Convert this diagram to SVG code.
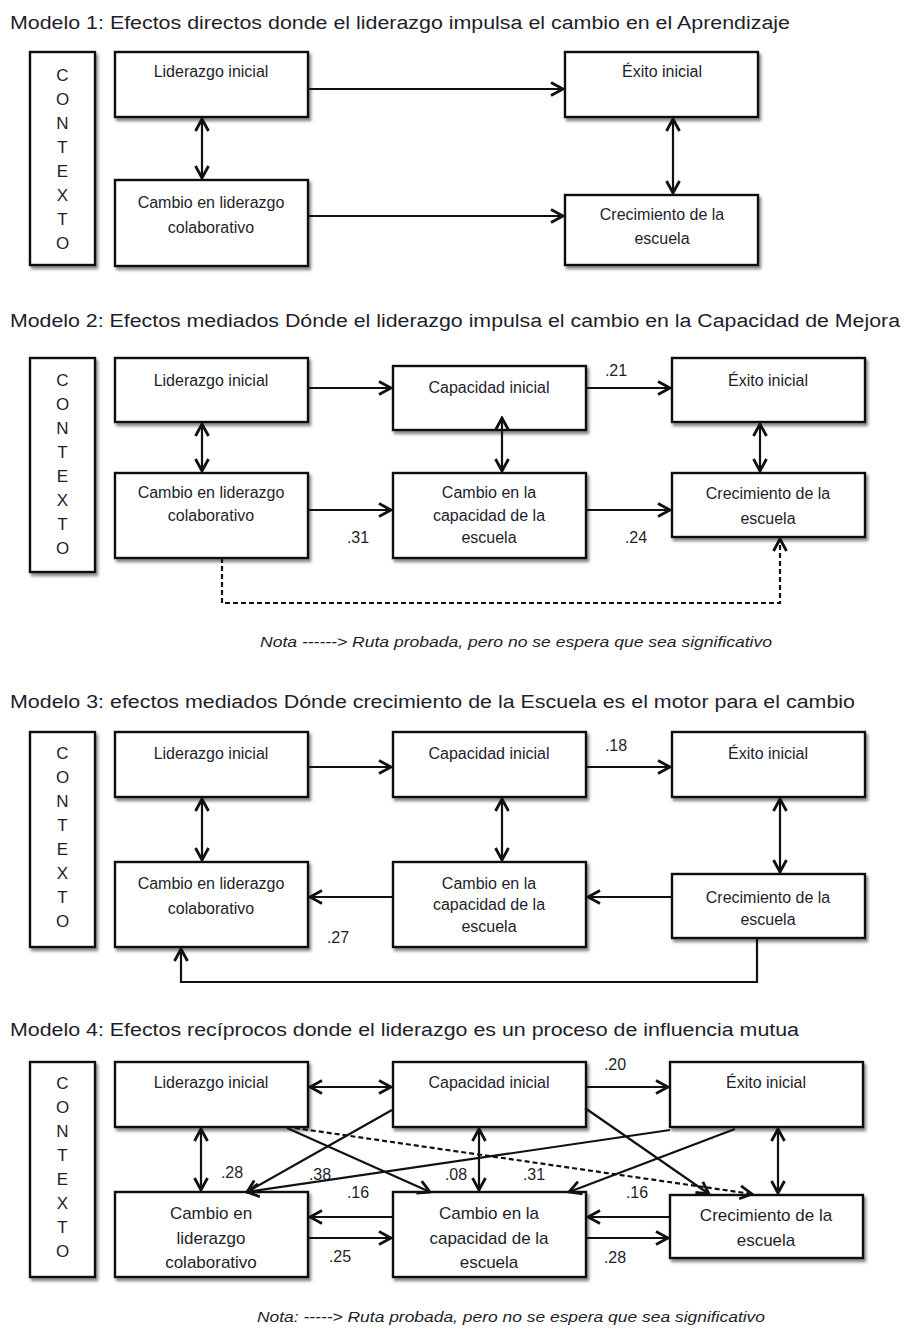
<svg xmlns="http://www.w3.org/2000/svg" width="904" height="1336" viewBox="0 0 904 1336">
<defs>
<filter id="sh" x="-10%" y="-10%" width="130%" height="140%">
<feDropShadow dx="2" dy="3" stdDeviation="1.5" flood-color="#555" flood-opacity="0.7"/>
</filter>
<marker id="ah" viewBox="0 0 16 16" markerWidth="16" markerHeight="16" refX="14" refY="8" orient="auto-start-reverse" markerUnits="userSpaceOnUse">
<path d="M2,1.5 L14,8 L2,14.5" fill="none" stroke="#111" stroke-width="2.8"/>
</marker>
</defs>
<style>
text{font-family:"Liberation Sans",Arial,sans-serif;fill:#1e1e2a}
.title{font-size:18px}
.t{font-size:16px;text-anchor:middle}
.t4{font-size:17px;text-anchor:middle}
.ctx{font-size:17px;text-anchor:middle}
.lbl{font-size:16px;text-anchor:middle}
.note{font-size:14px;font-style:italic;text-anchor:middle}
.box{fill:#fff;stroke:#111;stroke-width:2.4;filter:url(#sh)}
.c{fill:none;stroke:#111;stroke-width:2.2}
.e{marker-end:url(#ah)}
.d{marker-start:url(#ah);marker-end:url(#ah)}
.dash{stroke-dasharray:5 3}
</style>
<rect width="904" height="1336" fill="#fff"/>

<!-- Model 1 -->
<text class="title" x="10" y="29" textLength="780" lengthAdjust="spacingAndGlyphs">Modelo 1: Efectos directos donde el liderazgo impulsa el cambio en el Aprendizaje</text>
<g id="m1-contexto"><rect class="box" x="30" y="52" width="65" height="213"/>
<text class="ctx" x="62.5" y="81">C</text><text class="ctx" x="62.5" y="105">O</text><text class="ctx" x="62.5" y="129">N</text><text class="ctx" x="62.5" y="153">T</text><text class="ctx" x="62.5" y="177">E</text><text class="ctx" x="62.5" y="201">X</text><text class="ctx" x="62.5" y="225">T</text><text class="ctx" x="62.5" y="249">O</text></g>
<g id="m1-lid"><rect class="box" x="115" y="52" width="193" height="65"/><text class="t" x="211" y="77">Liderazgo inicial</text></g>
<g id="m1-exito"><rect class="box" x="565" y="52" width="193" height="65"/><text class="t" x="662" y="77">Éxito inicial</text></g>
<g id="m1-cambio"><rect class="box" x="115" y="180" width="193" height="86"/><text class="t" x="211" y="208">Cambio en liderazgo</text><text class="t" x="211" y="233">colaborativo</text></g>
<g id="m1-crec"><rect class="box" x="565" y="195" width="193" height="70"/><text class="t" x="662" y="220">Crecimiento de la</text><text class="t" x="662" y="244">escuela</text></g>
<g id="m1-connectors">
<line class="c e" x1="308" y1="89" x2="563" y2="89"/>
<line class="c e" x1="308" y1="216" x2="563" y2="216"/>
<line class="c d" x1="202" y1="119" x2="202" y2="178"/>
<line class="c d" x1="673" y1="119" x2="673" y2="193"/>
</g>

<!-- Model 2 -->
<text class="title" x="10" y="327" textLength="890" lengthAdjust="spacingAndGlyphs">Modelo 2: Efectos mediados Dónde el liderazgo impulsa el cambio en la Capacidad de Mejora</text>
<g id="m2-contexto"><rect class="box" x="30" y="358" width="65" height="214"/>
<text class="ctx" x="62.5" y="386">C</text><text class="ctx" x="62.5" y="410">O</text><text class="ctx" x="62.5" y="434">N</text><text class="ctx" x="62.5" y="458">T</text><text class="ctx" x="62.5" y="482">E</text><text class="ctx" x="62.5" y="506">X</text><text class="ctx" x="62.5" y="530">T</text><text class="ctx" x="62.5" y="554">O</text></g>
<g id="m2-lid"><rect class="box" x="115" y="358" width="193" height="64"/><text class="t" x="211" y="386">Liderazgo inicial</text></g>
<g id="m2-cap"><rect class="box" x="393" y="366" width="193" height="64"/><text class="t" x="489" y="393">Capacidad inicial</text></g>
<g id="m2-exito"><rect class="box" x="672" y="358" width="193" height="64"/><text class="t" x="768" y="386">Éxito inicial</text></g>
<g id="m2-cambio"><rect class="box" x="115" y="473" width="193" height="85"/><text class="t" x="211" y="498">Cambio en liderazgo</text><text class="t" x="211" y="521">colaborativo</text></g>
<g id="m2-cambiocap"><rect class="box" x="393" y="473" width="193" height="85"/><text class="t" x="489" y="498">Cambio en la</text><text class="t" x="489" y="521">capacidad de la</text><text class="t" x="489" y="543">escuela</text></g>
<g id="m2-crec"><rect class="box" x="672" y="473" width="193" height="64"/><text class="t" x="768" y="499">Crecimiento de la</text><text class="t" x="768" y="524">escuela</text></g>
<g id="m2-connectors">
<line class="c e" x1="308" y1="388" x2="391" y2="388"/>
<line class="c e" x1="586" y1="388" x2="670" y2="388"/>
<line class="c d" x1="202" y1="424" x2="202" y2="471"/>
<line class="c d" x1="502" y1="418" x2="502" y2="471"/>
<line class="c d" x1="760" y1="424" x2="760" y2="471"/>
<line class="c e" x1="308" y1="510" x2="391" y2="510"/>
<line class="c e" x1="586" y1="510" x2="670" y2="510"/>
<path class="c e dash" d="M222,558 V603 H780 V539"/>
<text class="lbl" x="616" y="376">.21</text>
<text class="lbl" x="358" y="543">.31</text>
<text class="lbl" x="636" y="543">.24</text>
</g>
<text class="note" x="516" y="647" textLength="512" lengthAdjust="spacingAndGlyphs">Nota ------&gt; Ruta probada, pero no se espera que sea significativo</text>

<!-- Model 3 -->
<text class="title" x="10" y="708" textLength="845" lengthAdjust="spacingAndGlyphs">Modelo 3: efectos mediados Dónde crecimiento de la Escuela es el motor para el cambio</text>
<g id="m3-contexto"><rect class="box" x="30" y="732" width="65" height="215"/>
<text class="ctx" x="62.5" y="759">C</text><text class="ctx" x="62.5" y="783">O</text><text class="ctx" x="62.5" y="807">N</text><text class="ctx" x="62.5" y="831">T</text><text class="ctx" x="62.5" y="855">E</text><text class="ctx" x="62.5" y="879">X</text><text class="ctx" x="62.5" y="903">T</text><text class="ctx" x="62.5" y="927">O</text></g>
<g id="m3-lid"><rect class="box" x="115" y="732" width="193" height="65"/><text class="t" x="211" y="759">Liderazgo inicial</text></g>
<g id="m3-cap"><rect class="box" x="393" y="732" width="193" height="65"/><text class="t" x="489" y="759">Capacidad inicial</text></g>
<g id="m3-exito"><rect class="box" x="672" y="732" width="193" height="65"/><text class="t" x="768" y="759">Éxito inicial</text></g>
<g id="m3-cambio"><rect class="box" x="115" y="862" width="193" height="85"/><text class="t" x="211" y="889">Cambio en liderazgo</text><text class="t" x="211" y="914">colaborativo</text></g>
<g id="m3-cambiocap"><rect class="box" x="393" y="862" width="193" height="85"/><text class="t" x="489" y="889">Cambio en la</text><text class="t" x="489" y="910">capacidad de la</text><text class="t" x="489" y="932">escuela</text></g>
<g id="m3-crec"><rect class="box" x="672" y="874" width="193" height="64"/><text class="t" x="768" y="903">Crecimiento de la</text><text class="t" x="768" y="925">escuela</text></g>
<g id="m3-connectors">
<line class="c e" x1="308" y1="767" x2="391" y2="767"/>
<line class="c e" x1="586" y1="767" x2="670" y2="767"/>
<line class="c d" x1="202" y1="799" x2="202" y2="860"/>
<line class="c d" x1="502" y1="799" x2="502" y2="860"/>
<line class="c d" x1="780" y1="799" x2="780" y2="872"/>
<line class="c e" x1="672" y1="897" x2="588" y2="897"/>
<line class="c e" x1="393" y1="897" x2="310" y2="897"/>
<path class="c e" d="M757,938 V982 H181 V949"/>
<text class="lbl" x="616" y="751">.18</text>
<text class="lbl" x="338" y="943">.27</text>
</g>

<!-- Model 4 -->
<text class="title" x="10" y="1036" textLength="789" lengthAdjust="spacingAndGlyphs">Modelo 4: Efectos recíprocos donde el liderazgo es un proceso de influencia mutua</text>
<g id="m4-contexto"><rect class="box" x="30" y="1062" width="65" height="215"/>
<text class="ctx" x="62.5" y="1089">C</text><text class="ctx" x="62.5" y="1113">O</text><text class="ctx" x="62.5" y="1137">N</text><text class="ctx" x="62.5" y="1161">T</text><text class="ctx" x="62.5" y="1185">E</text><text class="ctx" x="62.5" y="1209">X</text><text class="ctx" x="62.5" y="1233">T</text><text class="ctx" x="62.5" y="1257">O</text></g>
<g id="m4-lid"><rect class="box" x="115" y="1062" width="193" height="65"/><text class="t" x="211" y="1088">Liderazgo inicial</text></g>
<g id="m4-cap"><rect class="box" x="393" y="1062" width="193" height="65"/><text class="t" x="489" y="1088">Capacidad inicial</text></g>
<g id="m4-exito"><rect class="box" x="670" y="1062" width="193" height="65"/><text class="t" x="766" y="1088">Éxito inicial</text></g>
<g id="m4-cambio"><rect class="box" x="115" y="1192" width="193" height="85"/><text class="t4" x="211" y="1219">Cambio en</text><text class="t4" x="211" y="1244">liderazgo</text><text class="t4" x="211" y="1268">colaborativo</text></g>
<g id="m4-cambiocap"><rect class="box" x="393" y="1192" width="193" height="85"/><text class="t4" x="489" y="1219">Cambio en la</text><text class="t4" x="489" y="1244">capacidad de la</text><text class="t4" x="489" y="1268">escuela</text></g>
<g id="m4-crec"><rect class="box" x="670" y="1195" width="193" height="63"/><text class="t4" x="766" y="1221">Crecimiento de la</text><text class="t4" x="766" y="1246">escuela</text></g>
<g id="m4-connectors">
<line class="c d" x1="310" y1="1087" x2="391" y2="1087"/>
<line class="c e" x1="586" y1="1087" x2="668" y2="1087"/>
<line class="c d" x1="201" y1="1129" x2="201" y2="1190"/>
<line class="c d" x1="479" y1="1129" x2="479" y2="1190"/>
<line class="c d" x1="778" y1="1129" x2="778" y2="1193"/>
<line class="c e" x1="393" y1="1217" x2="310" y2="1217"/>
<line class="c e" x1="308" y1="1238" x2="391" y2="1238"/>
<line class="c e" x1="670" y1="1217" x2="588" y2="1217"/>
<line class="c e" x1="586" y1="1238" x2="668" y2="1238"/>
<line class="c e" x1="392" y1="1110" x2="247" y2="1192"/>
<line class="c e" x1="670" y1="1130" x2="247" y2="1192"/>
<line class="c e" x1="287" y1="1128" x2="430" y2="1192"/>
<line class="c e dash" x1="295" y1="1128" x2="752" y2="1194"/>
<line class="c e" x1="585" y1="1108" x2="709" y2="1194"/>
<line class="c e" x1="735" y1="1129" x2="569" y2="1192"/>
<text class="lbl" x="615" y="1070">.20</text>
<text class="lbl" x="232" y="1178">.28</text>
<text class="lbl" x="320" y="1180">.38</text>
<text class="lbl" x="456" y="1180">.08</text>
<text class="lbl" x="534" y="1180">.31</text>
<text class="lbl" x="358" y="1198">.16</text>
<text class="lbl" x="637" y="1198">.16</text>
<text class="lbl" x="340" y="1262">.25</text>
<text class="lbl" x="615" y="1263">.28</text>
</g>
<text class="note" x="511" y="1322" textLength="508" lengthAdjust="spacingAndGlyphs">Nota: -----&gt; Ruta probada, pero no se espera que sea significativo</text>
</svg>
